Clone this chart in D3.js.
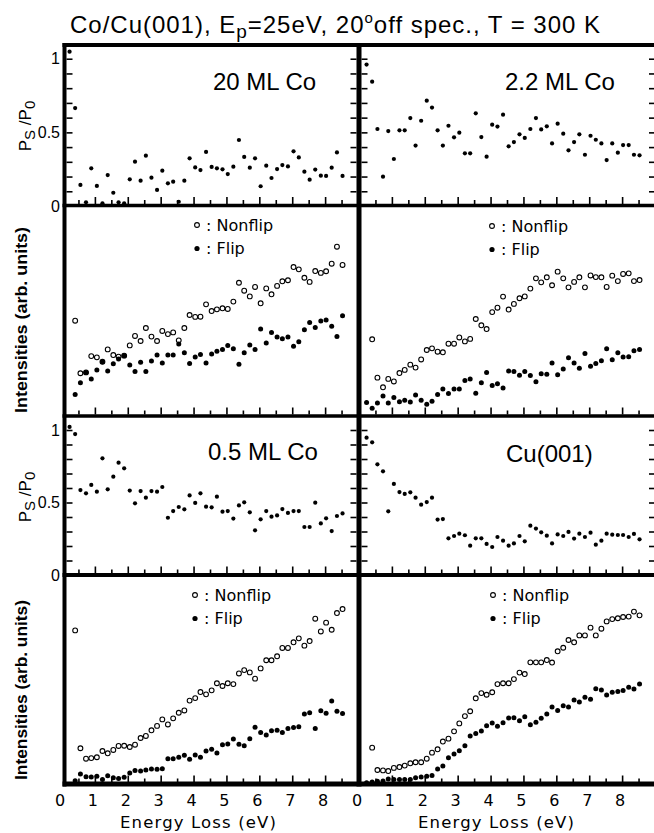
<!DOCTYPE html>
<html><head><meta charset="utf-8">
<script src="https://cdn.jsdelivr.net/npm/d3@7"></script>
<style>body{margin:0;background:#fff}svg{display:block}</style>
</head><body>
<svg id="c" width="654" height="833"></svg>
<script>
// ---------- data ----------
const energy = [0.23,0.40,0.56,0.73,0.89,1.06,1.23,1.39,1.56,1.72,1.89,2.06,2.22,2.39,2.55,2.72,2.89,3.05,3.22,3.38,3.55,3.72,3.88,4.05,4.21,4.38,4.55,4.71,4.88,5.04,5.21,5.38,5.54,5.71,5.87,6.04,6.21,6.37,6.54,6.70,6.87,7.04,7.20,7.37,7.53,7.70,7.87,8.03,8.20,8.36,8.53];

const pol20 = [1.048,0.665,0.143,0.025,0.256,0.136,0.018,0.21,0.09,0.025,0.018,0.181,0.301,0.172,0.342,0.192,0.109,0.24,0.154,0.165,0.029,0.172,0.324,0.262,0.244,0.367,0.265,0.256,0.249,0.217,0.267,0.448,0.333,0.26,0.324,0.134,0.274,0.19,0.251,0.278,0.269,0.371,0.33,0.233,0.179,0.247,0.206,0.204,0.26,0.364,0.204];
const pol22 = [0.96,0.844,0.523,0.199,0.509,0.319,0.514,0.514,0.597,0.41,0.579,0.715,0.668,0.514,0.41,0.545,0.466,0.498,0.358,0.358,0.629,0.468,0.335,0.552,0.539,0.62,0.405,0.434,0.487,0.462,0.523,0.597,0.52,0.541,0.425,0.559,0.491,0.378,0.434,0.487,0.348,0.477,0.45,0.425,0.312,0.425,0.362,0.414,0.414,0.348,0.344];
const pol05 = [1.021,0.972,0.586,0.563,0.621,0.575,0.805,0.591,0.678,0.775,0.736,0.582,0.494,0.579,0.533,0.579,0.575,0.607,0.395,0.441,0.469,0.453,0.549,0.497,0.563,0.471,0.467,0.54,0.437,0.441,0.389,0.48,0.501,0.432,0.308,0.384,0.441,0.402,0.411,0.455,0.428,0.441,0.441,0.331,0.331,0.499,0.356,0.391,0.303,0.407,0.425];
const polCu = [0.947,0.915,0.763,0.715,0.439,0.628,0.572,0.559,0.57,0.533,0.485,0.503,0.533,0.382,0.386,0.253,0.269,0.285,0.274,0.202,0.253,0.253,0.214,0.193,0.262,0.237,0.202,0.218,0.269,0.232,0.34,0.32,0.294,0.271,0.218,0.28,0.269,0.297,0.251,0.285,0.262,0.292,0.209,0.237,0.285,0.278,0.276,0.276,0.262,0.283,0.246];

const nonflip20 = [null,45.5,20.4,20.8,28.6,28.0,25.9,31.8,29.1,28.3,28.8,33.7,38.2,35.8,42.0,37.9,35.8,40.6,39.1,39.9,36.1,42.0,48.2,47.3,47.4,53.3,50.1,50.9,51.4,51.1,54.6,63.6,59.8,57.1,61.6,53.8,60.9,58.1,62.1,64.3,64.8,71.1,70.0,66.0,64.0,69.2,68.3,69.1,72.7,80.8,72.1];
const flip20 = [null,10.3,15.9,20.8,17.7,22.0,25.9,21.5,25.0,27.2,28.8,24.3,21.2,25.6,21.2,26.3,29.1,25.3,29.1,29.1,34.4,30.2,25.1,28.2,29.4,25.3,29.6,30.9,31.7,33.6,32.1,24.7,30.2,33.9,31.7,41.5,34.8,39.8,37.7,36.9,37.7,33.3,35.5,41.2,44.6,42.2,45.3,45.8,42.8,37.9,47.9];
const nonflip22 = [null,36.6,18.3,13.7,17.7,16.5,20.5,22.0,24.5,23.1,27.0,31.5,32.3,30.7,30.4,34.5,34.5,37.5,35.6,36.8,46.3,43.3,41.5,49.6,51.7,57.0,50.8,53.5,56.2,57.1,60.8,65.7,63.8,66.2,62.4,68.9,65.7,61.4,64.0,66.2,61.4,67.1,66.3,66.2,61.6,67.0,64.4,67.8,68.1,64.4,64.9];
const flip22 = [6.5,3.7,6.2,9.5,6.2,8.8,6.8,7.5,6.7,10.0,7.5,5.6,7.0,10.3,12.9,10.7,12.9,12.9,17.0,17.7,10.8,15.9,20.8,14.5,15.4,13.4,21.5,21.2,19.4,21.2,19.3,16.4,20.2,19.9,25.3,19.7,22.4,27.8,25.3,22.8,29.8,23.7,25.1,26.4,32.1,26.9,30.2,28.2,28.3,31.2,31.8];
const nonflip05 = [null,73.5,17.1,12.1,12.4,12.8,15.8,14.7,16.3,18.2,18.3,17.7,18.8,22.0,23.0,25.7,27.8,30.9,28.5,31.4,34.1,35.2,39.9,41.1,44.0,42.9,44.8,48.2,46.9,48.2,47.8,52.9,54.5,53.4,50.4,55.3,59.2,59.2,61.1,65.1,65.1,67.8,69.7,66.2,68.4,79.1,73.0,77.2,73.8,81.8,83.7];
const flip05 = [null,1.6,4.8,3.5,3.3,3.7,2.2,4.0,3.0,2.6,3.2,5.3,6.4,6.2,6.7,7.2,7.0,7.3,12.1,12.1,12.8,13.7,11.8,13.9,12.8,15.8,16.6,14.8,18.8,19.1,21.5,19.0,18.3,21.7,27.1,24.7,23.4,25.5,25.7,24.7,26.6,27.0,27.4,33.5,34.1,26.6,35.1,33.8,39.7,34.8,33.7];
const nonflipCu = [null,17.4,6.7,6.5,6.2,7.7,8.1,8.8,9.9,10.4,10.4,12.1,15.0,16.6,20.3,21.7,25.2,29.0,32.5,34.8,41.0,43.5,42.7,43.9,47.8,48.2,48.2,50.2,53.3,52.6,58.2,58.2,58.2,59.3,58.1,63.5,65.2,68.9,67.8,71.1,71.1,74.8,71.1,74.3,77.8,78.9,79.3,79.9,80.1,82.5,80.7];
const flipCu = [0.6,1.0,1.3,1.4,2.4,2.1,2.2,2.2,2.2,3.0,3.3,3.7,4.1,7.2,8.6,12.6,14.4,15.9,18.3,23.0,24.2,25.4,27.9,29.2,27.6,29.3,31.6,31.7,30.3,32.2,28.4,29.5,31.4,33.5,36.8,35.2,37.5,36.8,40.2,39.2,41.5,40.5,45.6,45.0,42.6,43.9,44.3,44.7,46.3,45.5,47.8];

const panelLabels = ["20 ML Co","2.2 ML Co","0.5 ML Co","Cu(001)"];
const xTickLabels = [0,1,2,3,4,5,6,7,8];
const xMajorTicks = [1,2,3,4,5,6,7,8];
const xMinorTicks = [0.5,1.5,2.5,3.5,4.5,5.5,6.5,7.5,8.5];
const pTickLabels = [0,0.5,1];
const pTicks = [0.1,0.2,0.3,0.4,0.5,0.6,0.7,0.8,0.9,1.0];
const legendLabels = [": Nonflip",": Flip"];
const FONT = "'Liberation Sans', Arial, sans-serif";
const WIDE = "'DejaVu Sans', sans-serif";

// ---------- scales ----------
const svg = d3.select("#c");
const xL = d3.scaleLinear().domain([0,9]).range([62,358]);
const xR = d3.scaleLinear().domain([0,9]).range([359,655]);
const yP1 = d3.scaleLinear().domain([0,1.1]).range([206,44]);
const yI1 = d3.scaleLinear().domain([0,100]).range([416,206.5]);
const yP2 = d3.scaleLinear().domain([0,1.1]).range([575,415.5]);
const yI2 = d3.scaleLinear().domain([0,100]).range([784,575]);

const pPanels = [
  {x:xL, y:yP1, data:pol20, label:panelLabels[0], lx:213, ly:90, bottom:205.5, inL:66.5, inR:356.5},
  {x:xR, y:yP1, data:pol22, label:panelLabels[1], lx:505, ly:90, bottom:205.5, inL:361.5, inR:655},
  {x:xL, y:yP2, data:pol05, label:panelLabels[2], lx:208, ly:460, bottom:575, inL:66.5, inR:356.5},
  {x:xR, y:yP2, data:polCu, label:panelLabels[3], lx:506, ly:462, bottom:575, inL:361.5, inR:655}
];
const iPanels = [
  {x:xL, y:yI1, nf:nonflip20, f:flip20, bottom:416, lgx:197, lgy:225},
  {x:xR, y:yI1, nf:nonflip22, f:flip22, bottom:416, lgx:492, lgy:226},
  {x:xL, y:yI2, nf:nonflip05, f:flip05, bottom:784, lgx:195, lgy:595},
  {x:xR, y:yI2, nf:nonflipCu, f:flipCu, bottom:784, lgx:493, lgy:595}
];

function cleanAxis(g){
  g.select(".domain").remove();
  g.selectAll(".tick line").attr("stroke","#000").attr("stroke-width",1.6);
}

// ---------- ticks ----------
[...pPanels, ...iPanels].forEach(p=>{
  const b = p.bottom - 1.5;
  svg.append("g").attr("transform",`translate(0,${b})`)
    .call(d3.axisBottom(p.x).tickValues(xMajorTicks).tickSize(-7).tickFormat(""))
    .call(cleanAxis);
  svg.append("g").attr("transform",`translate(0,${b})`)
    .call(d3.axisBottom(p.x).tickValues(xMinorTicks).tickSize(-4).tickFormat(""))
    .call(cleanAxis);
});
pPanels.forEach(p=>{
  svg.append("g").attr("transform",`translate(${p.inL},0)`)
    .call(d3.axisLeft(p.y).tickValues(pTicks).tickSize(-6).tickFormat(""))
    .call(cleanAxis);
  svg.append("g").attr("transform",`translate(${p.inR},0)`)
    .call(d3.axisRight(p.y).tickValues(pTicks).tickSize(-6).tickFormat(""))
    .call(cleanAxis);
});

// ---------- frame ----------
const frameLines = [
  {x1:64.5,y1:43,x2:64.5,y2:786.5,w:4},
  {x1:359,y1:43,x2:359,y2:786.5,w:5},
  {x1:657,y1:43,x2:657,y2:786.5,w:4},
  {x1:62.5,y1:45,x2:659,y2:45,w:4},
  {x1:62.5,y1:205.5,x2:659,y2:205.5,w:3.5},
  {x1:62.5,y1:416,x2:659,y2:416,w:3.5},
  {x1:62.5,y1:575,x2:659,y2:575,w:4},
  {x1:62.5,y1:784,x2:659,y2:784,w:5}
];
svg.append("g").selectAll("line").data(frameLines).join("line")
  .attr("x1",d=>d.x1).attr("y1",d=>d.y1).attr("x2",d=>d.x2).attr("y2",d=>d.y2)
  .attr("stroke","#000").attr("stroke-width",d=>d.w);

// ---------- P panels ----------
pPanels.forEach(p=>{
  const pts = energy.map((e,i)=>[e,p.data[i]]).filter(d=>d[1]!=null);
  svg.append("g").selectAll("circle").data(pts).join("circle")
    .attr("cx",d=>p.x(d[0])).attr("cy",d=>p.y(d[1])).attr("r",2.1).attr("fill","#000");
  svg.append("text").attr("x",p.lx).attr("y",p.ly).attr("font-family",FONT)
    .attr("font-size",24).attr("fill","#000").text(p.label);
});
// P tick labels (left column)
[yP1,yP2].forEach(y=>{
  svg.append("g").selectAll("text").data(pTickLabels).join("text")
    .attr("x",60).attr("y",d=>y(d)).attr("dy","0.36em").attr("text-anchor","end")
    .attr("font-family",FONT).attr("font-size",16).text(d=>d===0.5?"0.5":String(d));
});
// P axis titles
[[31,126],[31,497]].forEach(([x,y])=>{
  const t = svg.append("text").attr("transform",`translate(${x},${y}) rotate(-90)`)
    .attr("text-anchor","middle").attr("font-family",FONT).attr("font-size",17);
  t.append("tspan").text("P");
  t.append("tspan").attr("dy",4).attr("font-size",15).text("S");
  t.append("tspan").attr("dy",-4).text(" /P");
  t.append("tspan").attr("dy",4).attr("font-size",15).text("0");
});

// ---------- intensity panels ----------
iPanels.forEach(p=>{
  const nf = energy.map((e,i)=>[e,p.nf[i]]).filter(d=>d[1]!=null);
  const f = energy.map((e,i)=>[e,p.f[i]]).filter(d=>d[1]!=null);
  svg.append("g").selectAll("circle").data(nf).join("circle")
    .attr("cx",d=>p.x(d[0])).attr("cy",d=>p.y(d[1])).attr("r",2.4)
    .attr("fill","#fff").attr("stroke","#000").attr("stroke-width",1.1);
  svg.append("g").selectAll("circle").data(f).join("circle")
    .attr("cx",d=>p.x(d[0])).attr("cy",d=>p.y(d[1])).attr("r",2.5).attr("fill","#000");
  // legend
  svg.append("circle").attr("cx",p.lgx).attr("cy",p.lgy).attr("r",2.4)
    .attr("fill","#fff").attr("stroke","#000").attr("stroke-width",1.1);
  svg.append("circle").attr("cx",p.lgx).attr("cy",p.lgy+23.5).attr("r",2.6).attr("fill","#000");
  svg.append("text").attr("x",p.lgx+9).attr("y",p.lgy+5.5).attr("font-family",WIDE)
    .attr("font-size",16).text(legendLabels[0]);
  svg.append("text").attr("x",p.lgx+9).attr("y",p.lgy+29).attr("font-family",WIDE)
    .attr("font-size",16).text(legendLabels[1]);
});
[[27,320,186],[27,690,180]].forEach(([x,y,len])=>{
  svg.append("text").attr("transform",`translate(${x},${y}) rotate(-90)`)
    .attr("text-anchor","middle").attr("font-family",FONT).attr("font-weight","bold")
    .attr("font-size",16).attr("textLength",len).attr("lengthAdjust","spacingAndGlyphs")
    .text("Intensities (arb. units)");
});

// ---------- x labels ----------
[xL,xR].forEach(x=>{
  svg.append("g").selectAll("text").data(xTickLabels).join("text")
    .attr("x",d=>x(d)-2).attr("y",806).attr("text-anchor","middle")
    .attr("font-family",WIDE).attr("font-size",16).text(d=>d);
});
[198,496].forEach(cx=>{
  svg.append("text").attr("x",cx).attr("y",828).attr("text-anchor","middle")
    .attr("font-family",WIDE).attr("font-size",16.5).attr("textLength",156)
    .attr("lengthAdjust","spacing").text("Energy Loss (eV)");
});

// ---------- title ----------
const title = svg.append("text").attr("x",335).attr("y",33).attr("text-anchor","middle")
  .attr("font-family",FONT).attr("font-size",24).attr("textLength",530).attr("lengthAdjust","spacing");
title.append("tspan").text("Co/Cu(001),  E");
title.append("tspan").attr("dy",5).attr("font-size",19).text("p");
title.append("tspan").attr("dy",-5).text("=25eV,  20");
title.append("tspan").attr("dy",-10).attr("font-size",15).text("o");
title.append("tspan").attr("dy",10).text("off spec.,  T = 300 K");
</script>
</body></html>
